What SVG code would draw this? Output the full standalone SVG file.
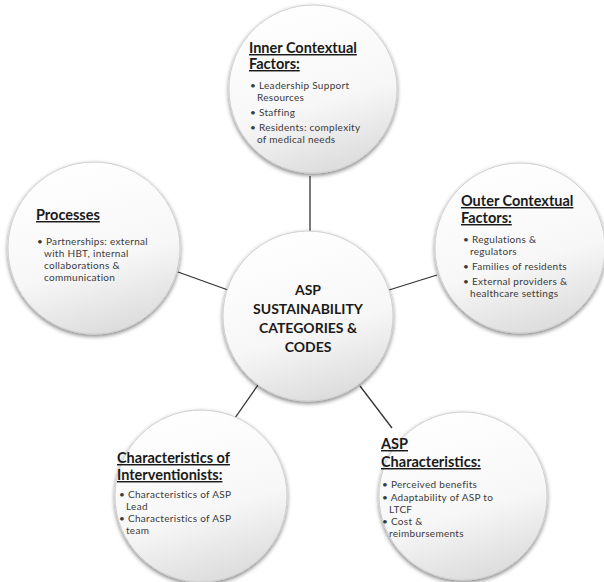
<svg xmlns="http://www.w3.org/2000/svg" width="604" height="582" viewBox="0 0 604 582">
<defs>
<linearGradient id="g" x1="0.3" y1="0" x2="0.6" y2="1">
<stop offset="0" stop-color="#ffffff"/>
<stop offset="0.6" stop-color="#f7f7f7"/>
<stop offset="1" stop-color="#dcdcdc"/>
</linearGradient>
<filter id="sh" x="-20%" y="-20%" width="140%" height="140%">
<feGaussianBlur in="SourceAlpha" stdDeviation="2"/>
<feOffset dx="0" dy="2" result="b"/>
<feComponentTransfer><feFuncA type="linear" slope="0.5"/></feComponentTransfer>
<feMerge><feMergeNode/><feMergeNode in="SourceGraphic"/></feMerge>
</filter>
<style>
.c{fill:url(#g);stroke:#cfcfcf;stroke-width:1;filter:url(#sh)}
.h{font-family:Lato,"Liberation Sans",sans-serif;font-weight:bold;font-size:14.5px;fill:#1a1a1a;text-decoration:underline}
.b{font-family:Lato,"Liberation Sans",sans-serif;font-size:10px;letter-spacing:0.3px;fill:#3a3a3a}
.m{font-family:Lato,"Liberation Sans",sans-serif;font-weight:bold;font-size:14px;fill:#1a1a1a;text-anchor:middle}
.l{stroke:#333;stroke-width:1.3;fill:none}
</style>
</defs>
<rect width="604" height="582" fill="#ffffff"/>
<g id="connectors">
<line class="l" x1="310" y1="176" x2="310" y2="232"/>
<line class="l" x1="178" y1="272" x2="228" y2="290"/>
<line class="l" x1="389" y1="290" x2="437" y2="275"/>
<line class="l" x1="258" y1="385" x2="228" y2="428"/>
<line class="l" x1="360" y1="386" x2="392" y2="428"/>
</g>
<g id="inner">
<circle class="c" cx="313" cy="89" r="84"/>
<text class="h" x="249" y="53">Inner Contextual</text>
<text class="h" x="249" y="69">Factors:</text>
<text class="b" x="250" y="89">• Leadership Support</text>
<text class="b" x="257" y="101">Resources</text>
<text class="b" x="250" y="116">• Staffing</text>
<text class="b" x="250" y="131">• Residents: complexity</text>
<text class="b" x="257" y="143">of medical needs</text>
</g>
<g id="outer">
<circle class="c" cx="520" cy="248" r="85"/>
<text class="h" x="461" y="206">Outer Contextual</text>
<text class="h" x="461" y="223">Factors:</text>
<text class="b" x="463" y="243">• Regulations &amp;</text>
<text class="b" x="470" y="255">regulators</text>
<text class="b" x="463" y="270">• Families of residents</text>
<text class="b" x="463" y="285">• External providers &amp;</text>
<text class="b" x="470" y="297">healthcare settings</text>
</g>
<g id="processes">
<circle class="c" cx="94" cy="248" r="86"/>
<text class="h" x="36" y="220">Processes</text>
<text class="b" x="37" y="245">• Partnerships: external</text>
<text class="b" x="44" y="257">with HBT, internal</text>
<text class="b" x="44" y="269">collaborations &amp;</text>
<text class="b" x="44" y="281">communication</text>
</g>
<g id="center">
<circle class="c" cx="308" cy="316" r="85"/>
<text class="m" x="308" y="295">ASP</text>
<text class="m" x="308" y="314">SUSTAINABILITY</text>
<text class="m" x="308" y="333">CATEGORIES &amp;</text>
<text class="m" x="308" y="352">CODES</text>
</g>
<g id="interventionists">
<circle class="c" cx="201" cy="496" r="86"/>
<text class="h" x="117" y="463">Characteristics of</text>
<text class="h" x="117" y="480">Interventionists:</text>
<text class="b" x="119" y="498">• Characteristics of ASP</text>
<text class="b" x="126" y="510">Lead</text>
<text class="b" x="119" y="522">• Characteristics of ASP</text>
<text class="b" x="126" y="534">team</text>
</g>
<g id="aspchar">
<circle class="c" cx="463" cy="496" r="84"/>
<text class="h" x="381" y="449">ASP</text>
<text class="h" x="381" y="467">Characteristics:</text>
<text class="b" x="382" y="488">• Perceived benefits</text>
<text class="b" x="382" y="501">• Adaptability of ASP to</text>
<text class="b" x="389" y="513">LTCF</text>
<text class="b" x="382" y="525">• Cost &amp;</text>
<text class="b" x="389" y="537">reimbursements</text>
</g>
</svg>
